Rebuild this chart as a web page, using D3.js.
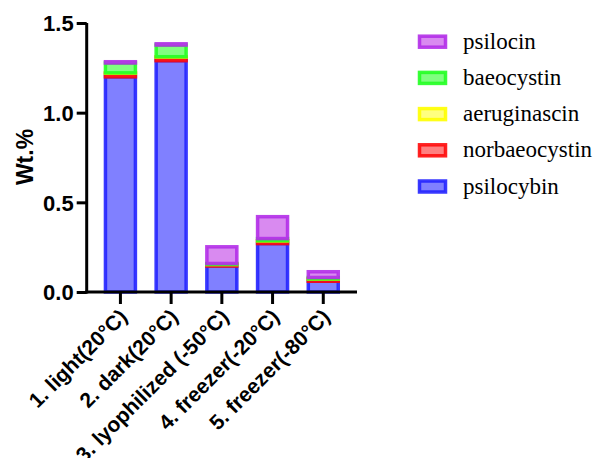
<!DOCTYPE html>
<html><head><meta charset="utf-8">
<script src="https://cdn.jsdelivr.net/npm/d3@7"></script>
<style>body{margin:0;background:#fff}svg{display:block}</style>
</head><body>
<svg id="c" width="594" height="458"></svg>
<script>
const categories = ["1. light(20°C)", "2. dark(20°C)", "3. lyophilized (-50°C)", "4. freezer(-20°C)", "5. freezer(-80°C)"];
const seriesNames = ["psilocybin", "norbaeocystin", "aeruginascin", "baeocystin", "psilocin"];
const psilocybin    = [1.20, 1.29, 0.145, 0.27, 0.06];
const norbaeocystin = [0.02, 0.02, 0.008, 0.015, 0.012];
const aeruginascin  = [0.002, 0.002, 0.001, 0.001, 0.001];
const baeocystin    = [0.055, 0.065, 0.005, 0.012, 0.008];
const psilocin      = [0.007, 0.007, 0.093, 0.122, 0.032];
const yTicks = [0, 0.5, 1.0, 1.5];
const fills   = ["#8080ff", "#ff8080", "#ffff80", "#80ff80", "#d98af0"];
const strokes = ["#2424ff", "#ff0a0a", "#ffff00", "#22ff22", "#b22ee8"];

const svg = d3.select("#c");
const series = [psilocybin, norbaeocystin, aeruginascin, baeocystin, psilocin];
const rows = categories.map((c, i) => {
  const r = {cat: c};
  seriesNames.forEach((s, j) => r[s] = series[j][i]);
  return r;
});
const stacked = d3.stack().keys(seriesNames)(rows);

const x = d3.scaleBand().domain(categories).range([86.7, 357]).paddingInner(0.35).paddingOuter(0.34);
const y = d3.scaleLinear().domain([0, 1.5]).range([292, 23]);

// bars
stacked.forEach((layer, j) => {
  svg.append("g").selectAll("rect").data(layer).join("rect")
    .attr("x", d => x(d.data.cat) + 1.5)
    .attr("width", x.bandwidth() - 3)
    .attr("y", d => y(d[1]))
    .attr("height", d => Math.max(0, y(d[0]) - y(d[1])))
    .attr("fill", fills[j])
    .attr("stroke", strokes[j])
    .attr("stroke-opacity", 0.9)
    .attr("stroke-width", 3.5);
});

// y axis
const yAxis = svg.append("g").attr("transform", "translate(86.7,0)")
  .call(d3.axisLeft(y).tickValues(yTicks).tickFormat(d3.format(".1f")).tickSize(10).tickPadding(3));
yAxis.select(".domain").attr("stroke", "#000").attr("stroke-width", 3).attr("d", `M0,${y(1.5)}V${y(0)+1.5}`);
yAxis.selectAll(".tick line").attr("stroke", "#000").attr("stroke-width", 3);
yAxis.selectAll(".tick text").attr("font-family", "Arial, 'Liberation Sans', sans-serif")
  .attr("font-weight", "bold").attr("font-size", 22).attr("fill", "#000").attr("dy", "0.36em");

// x axis
const xAxis = svg.append("g").attr("transform", "translate(0,292)")
  .call(d3.axisBottom(x).tickSize(12).tickPadding(4));
xAxis.select(".domain").attr("stroke", "#000").attr("stroke-width", 3).attr("d", "M85.2,0H357");
xAxis.selectAll(".tick line").attr("stroke", "#000").attr("stroke-width", 3);
xAxis.selectAll(".tick text")
  .attr("font-family", "Arial, 'Liberation Sans', sans-serif")
  .attr("font-weight", "bold").attr("font-size", 21).attr("fill", "#000")
  .attr("text-anchor", "end")
  .attr("y", 0).attr("dy", 0)
  .attr("transform", "translate(8,26) rotate(-45)");

// y title
svg.append("text").attr("transform", "translate(33,157) rotate(-90)")
  .attr("text-anchor", "middle")
  .attr("font-family", "Arial, 'Liberation Sans', sans-serif")
  .attr("font-weight", "bold").attr("font-size", 23).text("Wt.%");

// legend
const legendOrder = [4, 3, 2, 1, 0];
const lg = svg.append("g");
legendOrder.forEach((j, k) => {
  const cy = 41.7 + k * 36.2;
  lg.append("rect").attr("x", 419.5).attr("y", cy - 5.5).attr("width", 26).attr("height", 11)
    .attr("fill", fills[j]).attr("stroke", strokes[j]).attr("stroke-opacity", 0.9).attr("stroke-width", 3.5);
  lg.append("text").attr("x", 463).attr("y", cy + 7)
    .attr("font-family", "'Liberation Serif', 'Times New Roman', serif")
    .attr("font-size", 23).attr("fill", "#000").text(seriesNames[j]);
});
</script>
</body></html>
